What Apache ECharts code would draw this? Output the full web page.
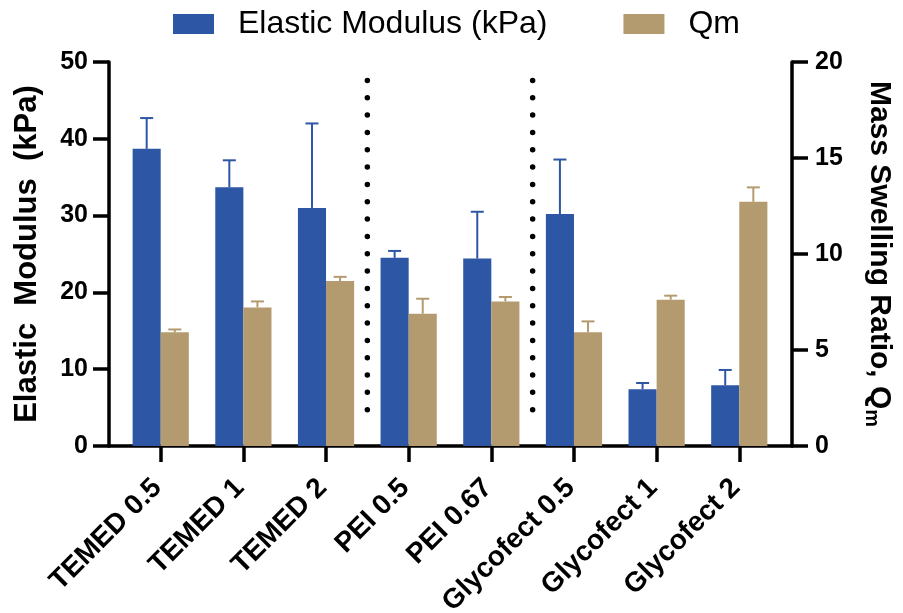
<!DOCTYPE html>
<html>
<head>
<meta charset="utf-8">
<script src="https://cdn.jsdelivr.net/npm/echarts@6/dist/echarts.min.js"></script>
<style>
  html, body { margin: 0; padding: 0; background: #fff; }
  #chart { width: 903px; height: 613px; }
</style>
</head>
<body>
<div id="chart"></div>
<script>
// Hydrogel formulations
const categories = ['TEMED 0.5', 'TEMED 1', 'TEMED 2', 'PEI 0.5', 'PEI 0.67', 'Glycofect 0.5', 'Glycofect 1', 'Glycofect 2'];

// Elastic modulus (kPa): mean and upper error
const modulus = [38.7, 33.7, 31.0, 24.5, 24.4, 30.2, 7.4, 7.9];
const modulusErr = [4.0, 3.5, 11.0, 0.9, 6.1, 7.1, 0.8, 2.0];

// Mass swelling ratio Qm: mean and upper error
const qm = [5.92, 7.22, 8.59, 6.89, 7.53, 5.92, 7.62, 12.72];
const qmErr = [0.15, 0.31, 0.22, 0.78, 0.23, 0.57, 0.21, 0.75];

// Axis ticks
const leftTicks = [0, 10, 20, 30, 40, 50];
const rightTicks = [0, 5, 10, 15, 20];

// Group separators: dotted line after these category indices
const separatorsAfter = [2, 4];

const BLUE = '#2d56a5';
const TAN = '#b49b6f';
const FONT = 'Liberation Sans, Arial, Helvetica, sans-serif';
const BAR_FRACTION = 0.68;

const chart = echarts.init(document.getElementById('chart'), null, { renderer: 'canvas' });

function errorBarRenderer(side, color) {
  return function (params, api) {
    const idx = api.value(0);
    const base = api.coord([idx, api.value(1)]);
    const top = api.coord([idx, api.value(2)]);
    const band = api.size([1, 0])[0];
    const x = base[0] + side * band * BAR_FRACTION / 4;
    const cap = 6.5;
    const style = { stroke: color, lineWidth: 2, fill: null };
    return {
      type: 'group',
      children: [
        { type: 'line', shape: { x1: x, y1: base[1], x2: x, y2: top[1] }, style: style },
        { type: 'line', shape: { x1: x - cap, y1: top[1], x2: x + cap, y2: top[1] }, style: style }
      ]
    };
  };
}

const dotTop = 47.6, dotBottom = 2.5;

const option = {
  backgroundColor: '#fff',
  animation: false,
  textStyle: { fontFamily: FONT },
  legend: {
    data: ['Elastic Modulus (kPa)', 'Qm'],
    left: 173,
    top: 8,
    padding: 0,
    icon: 'rect',
    itemWidth: 41,
    itemHeight: 20,
    itemGap: 76,
    textStyle: { fontSize: 32, color: '#000', fontFamily: FONT, padding: [0, 0, 0, 19] }
  },
  grid: [
    { left: 109, right: 111, top: 62, bottom: 167, containLabel: false, outerBoundsMode: 'none' },
    { left: 119.4, right: 122.4, top: 62, bottom: 167, containLabel: false, outerBoundsMode: 'none' }
  ],
  xAxis: [
    {
      gridIndex: 0, type: 'value', min: 0, max: 1,
      axisLine: { show: true, lineStyle: { color: '#000', width: 3.5 } },
      axisTick: { show: false }, axisLabel: { show: false }, splitLine: { show: false }
    },
    {
      gridIndex: 1, type: 'category', data: categories,
      axisLine: { show: false },
      axisTick: { show: true, alignWithLabel: true, length: 16, lineStyle: { color: '#000', width: 3.5 } },
      axisLabel: {
        rotate: 45, margin: 34, interval: 0, padding: [0, 5, 0, 0],
        fontSize: 28, fontWeight: 'bold', color: '#000', fontFamily: FONT
      },
      splitLine: { show: false }
    }
  ],
  yAxis: [
    { gridIndex: 0, type: 'value', show: false, min: 0, max: 1 },
    {
      gridIndex: 1, type: 'value', position: 'left', offset: 10.4,
      min: leftTicks[0], max: leftTicks[leftTicks.length - 1], interval: leftTicks[1] - leftTicks[0],
      name: 'Elastic  Modulus  (kPa)', nameLocation: 'middle', nameGap: 66,
      nameTextStyle: { fontSize: 31, fontWeight: 'bold', color: '#000', fontFamily: FONT },
      axisLine: { show: true, lineStyle: { color: '#000', width: 3.5 } },
      axisTick: { show: true, length: 16, lineStyle: { color: '#000', width: 3.5 } },
      axisLabel: { fontSize: 25, fontWeight: 'bold', color: '#000', margin: 21, fontFamily: FONT },
      splitLine: { show: false }
    },
    {
      gridIndex: 1, type: 'value', position: 'right', offset: 11.4,
      min: rightTicks[0], max: rightTicks[rightTicks.length - 1], interval: rightTicks[1] - rightTicks[0],
      name: 'Mass Swelling Ratio, Q{sub|m}', nameLocation: 'middle', nameGap: 70, nameRotate: -90,
      nameTextStyle: {
        fontSize: 30, fontWeight: 'bold', color: '#000', fontFamily: FONT,
        rich: { sub: { fontSize: 20, fontWeight: 'bold', color: '#000', fontFamily: FONT, verticalAlign: 'bottom', padding: [14, 0, 0, 0] } }
      },
      axisLine: { show: true, lineStyle: { color: '#000', width: 3.5 } },
      axisTick: { show: true, length: 16, lineStyle: { color: '#000', width: 3.5 } },
      axisLabel: { fontSize: 25, fontWeight: 'bold', color: '#000', margin: 23, fontFamily: FONT },
      splitLine: { show: false }
    }
  ],
  series: [
    {
      name: 'Elastic Modulus (kPa)', type: 'bar', xAxisIndex: 1, yAxisIndex: 1,
      data: modulus, barGap: '0%', barCategoryGap: ((1 - BAR_FRACTION) * 100) + '%',
      itemStyle: { color: BLUE }
    },
    {
      name: 'Qm', type: 'bar', xAxisIndex: 1, yAxisIndex: 2,
      data: qm, barGap: '0%', barCategoryGap: ((1 - BAR_FRACTION) * 100) + '%',
      itemStyle: { color: TAN }
    },
    {
      type: 'custom', xAxisIndex: 1, yAxisIndex: 1, z: 3,
      renderItem: errorBarRenderer(-1, BLUE),
      encode: { x: 0, y: [1, 2] },
      data: categories.map((c, i) => [i, modulus[i], modulus[i] + modulusErr[i]])
    },
    {
      type: 'custom', xAxisIndex: 1, yAxisIndex: 2, z: 3,
      renderItem: errorBarRenderer(1, TAN),
      encode: { x: 0, y: [1, 2] },
      data: categories.map((c, i) => [i, qm[i], qm[i] + qmErr[i]])
    },
    {
      type: 'custom', xAxisIndex: 1, yAxisIndex: 1, z: 4,
      renderItem: function (params, api) {
        const idx = api.value(0);
        const a = api.coord([idx, api.value(1)]);
        const b = api.coord([idx + 1, api.value(2)]);
        const x = (a[0] + b[0]) / 2;
        return {
          type: 'line',
          shape: { x1: x, y1: a[1], x2: x, y2: b[1] },
          style: { stroke: '#000', lineWidth: 5.5, lineDash: [0, 17.33], lineCap: 'round' }
        };
      },
      data: separatorsAfter.map(i => [i, dotTop, dotBottom])
    }
  ]
};

chart.setOption(option);
</script>
</body>
</html>
